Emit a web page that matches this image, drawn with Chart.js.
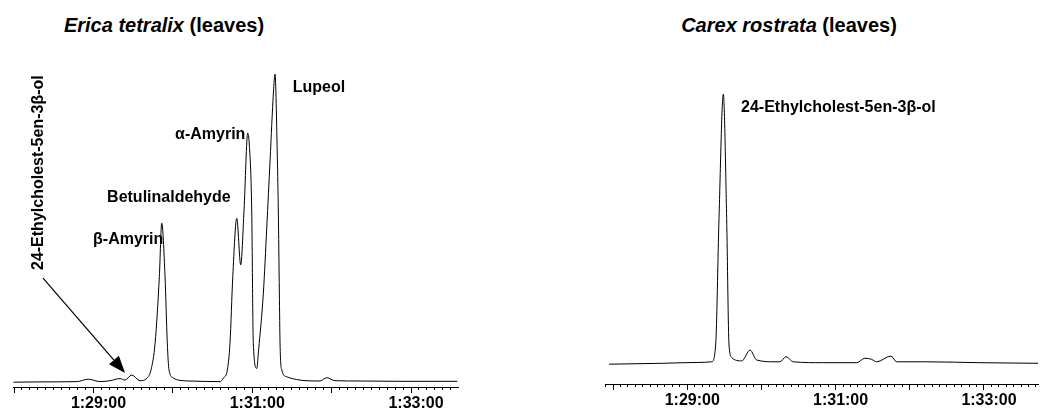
<!DOCTYPE html>
<html>
<head>
<meta charset="utf-8">
<script src="https://cdn.jsdelivr.net/npm/chart.js@4/dist/chart.umd.min.js"></script>
<style>
  body { margin: 0; background: #fff; width: 1042px; height: 410px; position: relative; overflow: hidden; }
  canvas { position: absolute; top: 0; }
  #erica { left: 0; }
  #carex { left: 580px; }
  .title {
    position: absolute; top: 14px; width: 300px; text-align: center;
    font: bold 20px "Liberation Sans", Arial, sans-serif; line-height: 22px; color: #000;
  }
</style>
</head>
<body>
<div class="title" style="left:14px"><i>Erica tetralix</i> (leaves)</div>
<div class="title" style="left:639px"><i>Carex rostrata</i> (leaves)</div>
<canvas id="erica" width="470" height="410"></canvas>
<canvas id="carex" width="462" height="410"></canvas>
<script>
// retention time in seconds (1:28:00 = 5280 s), signal in relative abundance
const ericaTime = [5279.5, 5299.6, 5327.4, 5336.1, 5345, 5352.5, 5360.1, 5363.9, 5368.9, 5375.2,
  5380.3, 5383.5, 5386.6, 5389.8, 5391.6, 5394.1, 5395.8, 5397.1, 5400.4, 5405.4,
  5413, 5435.7, 5438.2, 5441.2, 5443.2, 5445.3, 5448.3, 5451.3, 5453.8, 5456.6,
  5457.8, 5459.6, 5460.8, 5463.4, 5464.8, 5468.4, 5471, 5473.5, 5476, 5477.2, 5479,
  5479.7, 5480.5, 5481, 5482.3, 5486.1, 5496.1, 5511.2, 5516.3, 5522.6, 5541.5,
  5571.7, 5615];
const ericaSignal = [1.6, 1.7, 1.8, 2.6, 1.8, 2.1, 2.8, 2.3, 4.0, 2.1,
  2.9, 5.7, 14.7, 36.8, 54.6, 36.8, 14.7, 5.7, 3.0, 2.2,
  2.0, 1.8, 3.0, 5.7, 14.7, 36.8, 56.2, 40.7, 59, 84.6,
  80.7, 59, 14.6, 6.2, 12.3, 31.3, 53.3, 75.7, 98, 104.3, 75.7,
  59, 31.3, 14.7, 5.7, 3.4, 2.3, 2.0, 3.1, 2.1, 2.0,
  1.9, 1.9];

const carexTime = [5276.8, 5319.4, 5350.3, 5359.8, 5363, 5365.7, 5369.2, 5371.9, 5373.8, 5376,
  5384.1, 5390.8, 5396.2, 5411, 5415, 5419.9, 5425.8, 5450, 5477.1, 5483.8,
  5489.2, 5493.2, 5504.8, 5509.4, 5533.7, 5576.8, 5623.7];
const carexSignal = [6.6, 6.9, 7.2, 7.4, 13, 55.2, 96.6, 55.2, 13, 8.8,
  7.7, 11.3, 8, 7.4, 7.4, 9.1, 7.4, 7.1, 7.1, 8.6,
  8.2, 7.4, 9.3, 7.4, 7.4, 7.1, 6.9];

const tickLabels = ['1:29:00', '1:31:00', '1:33:00'];

const ericaPeaks = [
  { text: 'Lupeol', t: 5490.6, v: 99.7 },
  { text: 'α-Amyrin', t: 5401.7, v: 84 },
  { text: 'Betulinaldehyde', t: 5350.3, v: 63 },
  { text: 'β-Amyrin', t: 5339.7, v: 49 }
];
const ericaSideLabel = { text: '24-Ethylcholest-5en-3β-ol', t: 5298.9, v: 39 };
const ericaArrow = { from: [5301.9, 36.3], to: [5363.9, 4.7] };

const carexPeaks = [
  { text: '24-Ethylcholest-5en-3β-ol', t: 5383.5, v: 92.3 }
];

const labelFont = 'bold 16px "Liberation Sans", Arial, sans-serif';

function fmtTime(sec) {
    const h = Math.floor(sec / 3600);
    const m = Math.floor((sec % 3600) / 60);
    const s = Math.round(sec % 60);
    return h + ':' + String(m).padStart(2, '0') + ':' + String(s).padStart(2, '0');
}

// Draw peak names, the rotated label and the arrow
const peakLabelPlugin = {
    id: 'peakLabels',
    afterDatasetsDraw(chart, args, opts) {
        const ctx = chart.ctx;
        const xs = chart.scales.x;
        const ys = chart.scales.y;
        ctx.save();
        ctx.fillStyle = '#000';
        ctx.strokeStyle = '#000';
        ctx.font = labelFont;
        ctx.textBaseline = 'middle';
        ctx.textAlign = 'left';

        (opts.peaks || []).forEach(p => {
            ctx.fillText(p.text, xs.getPixelForValue(p.t), ys.getPixelForValue(p.v));
        });

        if (opts.side) {
            ctx.save();
            ctx.translate(xs.getPixelForValue(opts.side.t), ys.getPixelForValue(opts.side.v));
            ctx.rotate(-Math.PI / 2);
            ctx.fillText(opts.side.text, 0, 0);
            ctx.restore();
        }

        if (opts.arrow) {
            const x1 = xs.getPixelForValue(opts.arrow.from[0]);
            const y1 = ys.getPixelForValue(opts.arrow.from[1]);
            const x2 = xs.getPixelForValue(opts.arrow.to[0]);
            const y2 = ys.getPixelForValue(opts.arrow.to[1]);
            const ang = Math.atan2(y2 - y1, x2 - x1);
            const len = 17, half = 6.5;
            const bx = x2 - len * Math.cos(ang);
            const by = y2 - len * Math.sin(ang);
            ctx.lineWidth = 1.2;
            ctx.beginPath();
            ctx.moveTo(x1, y1);
            ctx.lineTo(bx, by);
            ctx.stroke();
            ctx.beginPath();
            ctx.moveTo(x2, y2);
            ctx.lineTo(bx + half * Math.sin(ang), by - half * Math.cos(ang));
            ctx.lineTo(bx - half * Math.sin(ang), by + half * Math.cos(ang));
            ctx.closePath();
            ctx.fill();
        }
        ctx.restore();
    }
};

function makeChart(canvasId, times, signal, range, pad, axisHeight, labels) {
    const ctx = document.getElementById(canvasId).getContext('2d');
    return new Chart(ctx, {
        type: 'line',
        data: {
            datasets: [{
                data: times.map((t, i) => ({ x: t, y: signal[i] })),
                borderColor: '#000',
                borderWidth: 1,
                pointRadius: 0,
                fill: false,
                cubicInterpolationMode: 'monotone'
            }]
        },
        options: {
            responsive: false,
            animation: false,
            devicePixelRatio: 1,
            layout: { padding: pad },
            plugins: {
                legend: { display: false },
                tooltip: { enabled: false },
                peakLabels: labels
            },
            scales: {
                x: {
                    type: 'linear',
                    position: 'bottom',
                    min: range[0],
                    max: range[1],
                    afterFit: (scale) => { scale.height = axisHeight; },
                    border: { display: true, color: '#000', width: 1 },
                    grid: { drawOnChartArea: false, color: '#000', tickLength: 6, tickWidth: 1 },
                    ticks: {
                        stepSize: 60,
                        includeBounds: false,
                        autoSkip: false,
                        maxRotation: 0,
                        padding: 1,
                        labelOffset: 5,
                        color: '#000',
                        font: { family: '"Liberation Sans", Arial, sans-serif', size: 16, weight: 'bold' },
                        callback: (value) => {
                            const s = fmtTime(value);
                            return tickLabels.includes(s) ? s : '';
                        }
                    }
                },
                x2: {
                    type: 'linear',
                    axis: 'x',
                    position: { y: 0 },
                    min: range[0],
                    max: range[1],
                    border: { display: false },
                    grid: { drawOnChartArea: false, color: '#000', tickLength: 3, tickWidth: 1 },
                    ticks: { stepSize: 6, includeBounds: false, autoSkip: false, display: false }
                },
                y: {
                    display: false,
                    min: 0,
                    max: 110
                }
            }
        },
        plugins: [peakLabelPlugin]
    });
}

makeChart('erica', ericaTime, ericaSignal, [5279.2, 5615.5],
    { left: 13, right: 12, top: 57, bottom: 0 }, 23,
    { peaks: ericaPeaks, side: ericaSideLabel, arrow: ericaArrow });

makeChart('carex', carexTime, carexSignal, [5273.5, 5623.7],
    { left: 25, right: 4, top: 54, bottom: 0 }, 26,
    { peaks: carexPeaks });
</script>
</body>
</html>
